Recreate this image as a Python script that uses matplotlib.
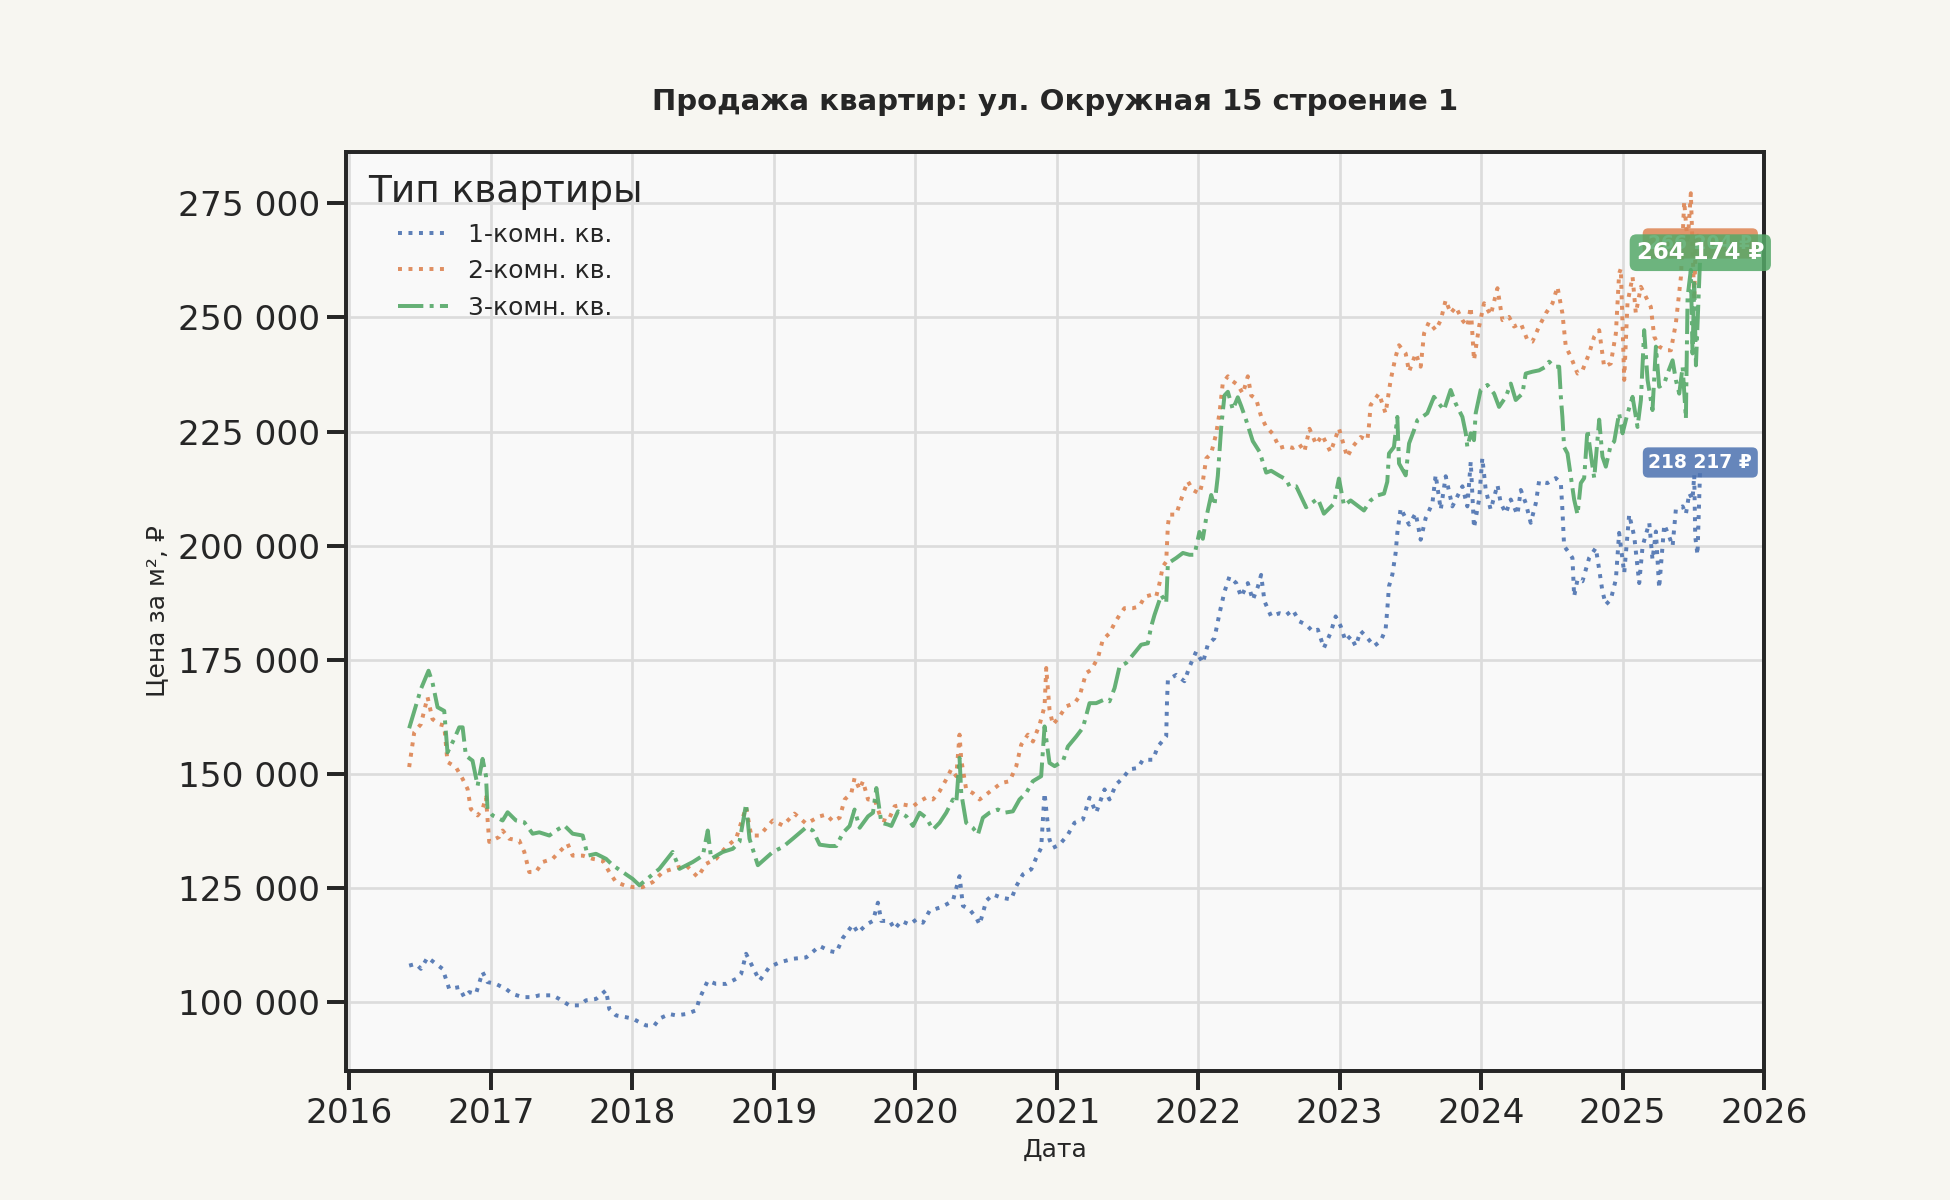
import matplotlib
matplotlib.use("Agg")
import matplotlib.pyplot as plt
import matplotlib.ticker as mticker
import seaborn as sns

# ---------------- data (decimal year, price in thousand RUB per m2) ----------------
series_names = ["1-комн. кв.", "2-комн. кв.", "3-комн. кв."]

x_1room = [2016.422, 2016.469, 2016.505, 2016.552, 2016.611, 2016.658, 2016.682, 2016.705, 2016.776, 2016.811,
           2016.847, 2016.894, 2016.941, 2016.976, 2017.035, 2017.106, 2017.153, 2017.224, 2017.295, 2017.342,
           2017.436, 2017.483, 2017.554, 2017.625, 2017.672, 2017.743, 2017.814, 2017.837, 2017.884, 2017.955,
           2018.002, 2018.050, 2018.097, 2018.156, 2018.191, 2018.262, 2018.309, 2018.380, 2018.450, 2018.474,
           2018.533, 2018.592, 2018.663, 2018.733, 2018.769, 2018.804, 2018.851, 2018.899, 2018.969, 2019.040,
           2019.134, 2019.229, 2019.324, 2019.395, 2019.442, 2019.489, 2019.559, 2019.595, 2019.654, 2019.701,
           2019.736, 2019.760, 2019.819, 2019.854, 2019.901, 2019.960, 2020.007, 2020.054, 2020.101, 2020.172,
           2020.219, 2020.266, 2020.313, 2020.337, 2020.384, 2020.431, 2020.455, 2020.502, 2020.549, 2020.608,
           2020.678, 2020.714, 2020.761, 2020.820, 2020.855, 2020.890, 2020.914, 2020.938, 2020.949, 2020.973,
           2021.020, 2021.079, 2021.126, 2021.185, 2021.232, 2021.279, 2021.338, 2021.373, 2021.420, 2021.468,
           2021.515, 2021.574, 2021.609, 2021.680, 2021.715, 2021.774, 2021.780, 2021.786, 2021.845, 2021.903,
           2021.939, 2021.986, 2022.033, 2022.068, 2022.115, 2022.151, 2022.186, 2022.221, 2022.269, 2022.304,
           2022.351, 2022.386, 2022.422, 2022.445, 2022.469, 2022.516, 2022.575, 2022.622, 2022.669, 2022.716,
           2022.763, 2022.810, 2022.846, 2022.889, 2022.936, 2022.972, 2023.007, 2023.042, 2023.078, 2023.113,
           2023.149, 2023.196, 2023.243, 2023.290, 2023.325, 2023.337, 2023.349, 2023.373, 2023.396, 2023.408,
           2023.432, 2023.467, 2023.491, 2023.538, 2023.573, 2023.608, 2023.656, 2023.679, 2023.715, 2023.750,
           2023.797, 2023.844, 2023.868, 2023.903, 2023.927, 2023.950, 2023.986, 2024.009, 2024.033, 2024.068,
           2024.116, 2024.139, 2024.175, 2024.210, 2024.257, 2024.281, 2024.316, 2024.351, 2024.387, 2024.410,
           2024.469, 2024.528, 2024.564, 2024.575, 2024.587, 2024.623, 2024.646, 2024.658, 2024.682, 2024.717,
           2024.741, 2024.764, 2024.811, 2024.835, 2024.858, 2024.882, 2024.917, 2024.953, 2024.976, 2025.012,
           2025.047, 2025.083, 2025.118, 2025.142, 2025.189, 2025.212, 2025.236, 2025.259, 2025.295, 2025.330,
           2025.354, 2025.377, 2025.425, 2025.448, 2025.472, 2025.495, 2025.507, 2025.514, 2025.530, 2025.550]
y_1room = [108.0, 108.4, 107.3, 109.8, 108.4, 107.3, 105.1, 102.9, 103.3, 101.1,
           102.2, 101.8, 106.6, 104.4, 104.0, 102.9, 101.8, 101.1, 101.1, 101.5,
           101.5, 100.7, 99.3, 99.3, 100.4, 100.7, 102.6, 98.5, 97.1, 96.7,
           96.4, 95.6, 94.9, 94.9, 96.4, 97.4, 97.1, 97.4, 98.2, 100.7,
           104.7, 104.0, 104.0, 105.1, 106.2, 110.6, 107.7, 104.7, 107.7, 108.7,
           109.5, 109.8, 112.3, 111.2, 110.9, 114.1, 117.0, 115.2, 117.0, 117.8,
           121.8, 117.8, 117.8, 116.0, 117.8, 117.0, 118.1, 117.4, 120.0, 120.7,
           121.4, 122.2, 127.6, 121.1, 120.3, 118.5, 117.0, 122.2, 123.6, 122.9,
           122.5, 125.4, 128.0, 129.1, 131.6, 133.8, 145.8, 138.6, 135.6, 133.8,
           134.5, 136.7, 139.3, 140.0, 144.8, 141.5, 146.6, 144.4, 147.7, 149.1,
           151.0, 151.3, 153.1, 153.1, 156.0, 158.2, 166.3, 170.6, 171.7, 170.3,
           173.5, 176.8, 174.3, 178.3, 179.7, 185.2, 189.9, 193.2, 191.8, 188.8,
           191.8, 188.1, 191.0, 193.6, 187.8, 184.5, 185.2, 184.8, 185.9, 183.4,
           182.7, 181.2, 181.6, 177.6, 180.9, 184.5, 182.4, 179.1, 180.2, 178.0,
           181.3, 179.8, 178.0, 179.1, 181.6, 186.0, 191.1, 193.7, 198.4, 202.8,
           208.2, 206.0, 204.6, 207.1, 201.3, 206.0, 209.3, 215.5, 207.9, 215.2,
           208.6, 211.5, 213.0, 208.6, 218.4, 203.9, 210.1, 219.2, 212.2, 207.9,
           213.3, 209.3, 207.1, 210.1, 206.8, 212.2, 209.3, 205.0, 209.3, 214.1,
           213.7, 214.8, 213.7, 207.9, 199.9, 198.4, 197.3, 188.9, 192.6, 192.2,
           194.8, 197.3, 199.5, 194.8, 190.0, 187.1, 188.2, 192.6, 202.8, 194.0,
           206.8, 202.0, 191.8, 199.9, 205.0, 196.9, 203.1, 190.7, 204.6, 202.0,
           199.9, 207.9, 208.6, 206.9, 211.5, 210.1, 215.5, 202.0, 198.0, 218.217]

x_2room = [2016.422, 2016.458, 2016.505, 2016.552, 2016.587, 2016.634, 2016.670, 2016.693, 2016.752, 2016.800,
           2016.835, 2016.858, 2016.906, 2016.941, 2016.965, 2016.988, 2017.059, 2017.083, 2017.130, 2017.200,
           2017.236, 2017.271, 2017.318, 2017.366, 2017.436, 2017.483, 2017.542, 2017.578, 2017.649, 2017.719,
           2017.790, 2017.837, 2017.884, 2017.943, 2018.002, 2018.073, 2018.144, 2018.215, 2018.285, 2018.380,
           2018.462, 2018.521, 2018.592, 2018.663, 2018.733, 2018.804, 2018.840, 2018.899, 2018.993, 2019.064,
           2019.146, 2019.229, 2019.324, 2019.371, 2019.418, 2019.465, 2019.501, 2019.548, 2019.571, 2019.607,
           2019.630, 2019.666, 2019.713, 2019.760, 2019.807, 2019.854, 2019.913, 2019.984, 2020.031, 2020.078,
           2020.125, 2020.172, 2020.219, 2020.254, 2020.290, 2020.313, 2020.325, 2020.360, 2020.407, 2020.455,
           2020.502, 2020.549, 2020.608, 2020.667, 2020.714, 2020.749, 2020.796, 2020.832, 2020.879, 2020.914,
           2020.926, 2020.949, 2020.973, 2021.020, 2021.067, 2021.126, 2021.161, 2021.208, 2021.244, 2021.291,
           2021.326, 2021.373, 2021.409, 2021.444, 2021.479, 2021.538, 2021.585, 2021.621, 2021.668, 2021.703,
           2021.727, 2021.750, 2021.774, 2021.786, 2021.797, 2021.845, 2021.868, 2021.903, 2021.927, 2021.962,
           2022.009, 2022.033, 2022.057, 2022.092, 2022.127, 2022.151, 2022.174, 2022.210, 2022.245, 2022.280,
           2022.316, 2022.351, 2022.375, 2022.410, 2022.445, 2022.481, 2022.528, 2022.575, 2022.622, 2022.669,
           2022.716, 2022.751, 2022.787, 2022.834, 2022.877, 2022.936, 2022.995, 2023.054, 2023.090, 2023.149,
           2023.196, 2023.208, 2023.219, 2023.278, 2023.325, 2023.361, 2023.396, 2023.420, 2023.467, 2023.491,
           2023.538, 2023.573, 2023.597, 2023.632, 2023.679, 2023.715, 2023.750, 2023.785, 2023.821, 2023.868,
           2023.903, 2023.927, 2023.950, 2023.986, 2024.021, 2024.068, 2024.116, 2024.151, 2024.198, 2024.233,
           2024.281, 2024.328, 2024.363, 2024.410, 2024.458, 2024.505, 2024.540, 2024.575, 2024.599, 2024.634,
           2024.682, 2024.717, 2024.764, 2024.800, 2024.835, 2024.870, 2024.917, 2024.953, 2024.976, 2024.988,
           2025.012, 2025.035, 2025.071, 2025.094, 2025.130, 2025.165, 2025.200, 2025.224, 2025.259, 2025.307,
           2025.342, 2025.377, 2025.413, 2025.436, 2025.460, 2025.483, 2025.507, 2025.519, 2025.550]
y_2room = [151.5, 159.1, 160.9, 166.8, 162.0, 160.9, 160.6, 152.6, 151.5, 148.9,
           146.7, 142.3, 140.9, 142.3, 144.9, 135.1, 136.2, 137.6, 135.8, 135.4,
           132.9, 128.5, 128.5, 130.7, 131.4, 132.9, 134.7, 132.1, 132.1, 131.4,
           131.0, 128.5, 126.3, 125.6, 125.2, 125.2, 126.3, 128.5, 129.2, 130.0,
           127.4, 130.3, 131.4, 134.0, 135.8, 142.7, 136.5, 136.5, 139.8, 138.7,
           141.3, 139.1, 140.7, 141.1, 139.6, 140.4, 144.4, 145.8, 149.1, 146.6,
           148.4, 144.4, 144.4, 140.0, 139.6, 142.9, 143.3, 142.9, 144.0, 144.8,
           144.4, 146.2, 148.8, 151.0, 149.5, 158.6, 153.1, 146.6, 145.8, 144.4,
           145.5, 146.6, 148.0, 148.4, 151.7, 156.4, 158.6, 157.1, 160.8, 164.8,
           173.2, 164.1, 160.8, 162.6, 164.8, 165.5, 167.0, 172.1, 172.8, 175.4,
           179.4, 180.8, 183.0, 184.8, 186.3, 186.3, 186.7, 188.8, 189.2, 188.8,
           191.8, 195.4, 196.5, 204.5, 206.8, 206.8, 209.1, 212.2, 214.1, 212.2,
           211.4, 214.1, 219.1, 220.2, 224.5, 229.1, 235.6, 237.1, 236.0, 235.2,
           233.3, 237.1, 232.9, 232.1, 228.3, 226.0, 224.5, 221.4, 221.8, 221.4,
           222.2, 220.6, 225.6, 222.2, 224.2, 220.5, 225.7, 219.4, 221.6, 223.8,
           223.1, 226.4, 230.8, 233.3, 229.0, 236.3, 241.4, 243.9, 242.1, 238.1,
           242.1, 239.2, 246.5, 249.0, 247.2, 249.4, 253.8, 250.9, 252.3, 249.4,
           248.0, 252.3, 240.6, 248.0, 253.1, 250.5, 256.4, 249.4, 250.1, 248.0,
           248.7, 245.0, 244.7, 248.0, 250.9, 253.1, 256.7, 250.9, 243.6, 241.4,
           237.7, 238.4, 242.1, 245.8, 247.2, 239.2, 239.9, 246.5, 259.6, 260.7,
           236.3, 253.1, 258.9, 250.9, 256.7, 254.5, 252.3, 245.8, 243.6, 242.8,
           242.8, 248.7, 258.9, 275.4, 266.2, 277.2, 253.8, 268.4, 266.204]

x_3room = [2016.422, 2016.505, 2016.559, 2016.587, 2016.623, 2016.670, 2016.693, 2016.741, 2016.776, 2016.800,
           2016.823, 2016.870, 2016.906, 2016.941, 2016.965, 2016.976, 2017.012, 2017.083, 2017.118, 2017.177,
           2017.236, 2017.295, 2017.342, 2017.413, 2017.460, 2017.519, 2017.578, 2017.649, 2017.684, 2017.743,
           2017.814, 2017.861, 2017.932, 2018.002, 2018.050, 2018.120, 2018.191, 2018.285, 2018.333, 2018.427,
           2018.498, 2018.533, 2018.557, 2018.639, 2018.710, 2018.757, 2018.804, 2018.828, 2018.887, 2018.993,
           2019.064, 2019.134, 2019.229, 2019.276, 2019.324, 2019.395, 2019.442, 2019.489, 2019.536, 2019.571,
           2019.607, 2019.666, 2019.701, 2019.725, 2019.760, 2019.807, 2019.831, 2019.878, 2019.937, 2019.984,
           2020.031, 2020.078, 2020.125, 2020.172, 2020.219, 2020.266, 2020.290, 2020.313, 2020.325, 2020.360,
           2020.407, 2020.443, 2020.478, 2020.525, 2020.584, 2020.631, 2020.690, 2020.737, 2020.784, 2020.831,
           2020.890, 2020.914, 2020.949, 2020.985, 2021.044, 2021.079, 2021.138, 2021.185, 2021.232, 2021.279,
           2021.338, 2021.373, 2021.409, 2021.444, 2021.491, 2021.550, 2021.597, 2021.644, 2021.668, 2021.691,
           2021.739, 2021.774, 2021.786, 2021.845, 2021.892, 2021.939, 2021.974, 2022.009, 2022.033, 2022.057,
           2022.092, 2022.115, 2022.139, 2022.163, 2022.186, 2022.210, 2022.245, 2022.280, 2022.304, 2022.339,
           2022.386, 2022.433, 2022.481, 2022.516, 2022.575, 2022.622, 2022.646, 2022.693, 2022.728, 2022.763,
           2022.810, 2022.846, 2022.889, 2022.960, 2022.995, 2023.031, 2023.078, 2023.125, 2023.172, 2023.219,
           2023.267, 2023.314, 2023.337, 2023.349, 2023.384, 2023.408, 2023.420, 2023.467, 2023.491, 2023.526,
           2023.550, 2023.585, 2023.620, 2023.667, 2023.703, 2023.738, 2023.785, 2023.821, 2023.868, 2023.892,
           2023.903, 2023.927, 2023.950, 2023.962, 2023.997, 2024.045, 2024.092, 2024.127, 2024.175, 2024.210,
           2024.245, 2024.292, 2024.316, 2024.363, 2024.410, 2024.458, 2024.481, 2024.517, 2024.552, 2024.564,
           2024.575, 2024.587, 2024.611, 2024.634, 2024.658, 2024.682, 2024.705, 2024.729, 2024.752, 2024.788,
           2024.800, 2024.835, 2024.858, 2024.882, 2024.917, 2024.941, 2024.976, 2025.000, 2025.035, 2025.071,
           2025.106, 2025.130, 2025.153, 2025.177, 2025.212, 2025.236, 2025.259, 2025.295, 2025.318, 2025.354,
           2025.377, 2025.401, 2025.425, 2025.448, 2025.460, 2025.483, 2025.495, 2025.507, 2025.519, 2025.550]
y_3room = [160.0, 168.6, 172.6, 170.0, 164.6, 163.8, 154.7, 157.7, 160.2, 160.2,
           154.0, 152.9, 147.4, 153.3, 149.6, 142.3, 140.9, 139.8, 141.6, 139.8,
           139.4, 136.9, 137.2, 136.5, 137.6, 138.7, 136.9, 136.5, 132.1, 132.5,
           131.4, 130.0, 128.5, 127.0, 125.6, 127.4, 129.2, 132.9, 129.2, 130.7,
           132.1, 137.6, 131.4, 132.9, 133.6, 135.1, 143.4, 135.8, 130.0, 132.9,
           134.0, 135.8, 138.3, 137.6, 134.5, 134.2, 134.2, 137.1, 138.6, 142.2,
           138.2, 140.7, 141.5, 146.9, 139.3, 138.9, 138.6, 141.8, 140.7, 138.6,
           141.5, 140.4, 137.8, 139.3, 141.5, 144.4, 143.7, 153.5, 145.8, 139.3,
           138.2, 136.7, 140.4, 141.5, 142.2, 141.5, 141.8, 144.4, 145.8, 148.4,
           149.5, 160.4, 152.4, 151.7, 152.8, 156.0, 158.2, 160.1, 165.5, 165.5,
           166.3, 165.9, 168.8, 173.5, 174.3, 176.5, 178.3, 178.6, 182.3, 184.8,
           189.2, 187.4, 196.1, 197.3, 198.4, 198.0, 198.0, 203.0, 201.5, 206.1,
           211.1, 208.8, 215.3, 226.0, 232.9, 233.7, 229.8, 232.5, 230.6, 227.5,
           222.9, 220.6, 216.0, 216.4, 215.3, 214.5, 213.0, 213.0, 210.7, 208.4,
           209.5, 210.3, 207.0, 209.2, 214.7, 208.8, 209.9, 208.8, 207.7, 209.9,
           211.0, 211.4, 214.0, 220.2, 221.6, 228.2, 218.0, 215.4, 222.4, 225.3,
           227.5, 228.2, 229.0, 232.6, 231.1, 229.7, 234.1, 231.1, 228.2, 224.6,
           221.6, 224.6, 223.1, 229.0, 234.1, 235.2, 233.3, 230.4, 232.6, 235.5,
           231.9, 233.3, 237.7, 238.1, 238.4, 239.2, 240.3, 239.2, 239.2, 232.6,
           228.2, 221.6, 220.2, 215.2, 210.1, 206.8, 213.7, 214.8, 225.4, 217.3,
           214.8, 227.6, 219.5, 217.3, 222.1, 222.8, 229.0, 224.6, 228.9, 232.6,
           226.0, 231.9, 247.2, 236.3, 229.7, 243.6, 234.8, 235.5, 237.7, 240.6,
           236.3, 233.3, 239.2, 227.8, 254.5, 260.4, 242.1, 257.5, 239.5, 264.174]

end_labels = ["218 217 ₽", "266 204 ₽", "264 174 ₽"]
year_ticks = list(range(2016, 2027))

# ---------------- style ----------------
sns.set_theme(context="talk", style="ticks")
plt.rcParams["font.family"] = ["DejaVu Sans"]

colors = ["#4c72b0", "#dd8452", "#55a868"]
styles = [":", ":", "-."]
label_sizes = [9, 9, 11]

fig = plt.figure(figsize=(13, 8), dpi=150, facecolor="#f7f6f1")
ax = fig.add_axes([0.1774, 0.1078, 0.7272, 0.7658])
ax.set_facecolor("#f9f9f9")

xs = [x_1room, x_2room, x_3room]
ys = [y_1room, y_2room, y_3room]
for i in range(3):
    yv = [v * 1000 for v in ys[i]]
    ax.plot(xs[i], yv, linestyle=styles[i], color=colors[i], lw=1.9, alpha=0.9,
            label=series_names[i], zorder=3)

for i in [0, 1, 2]:
    ax.text(xs[i][-1], ys[i][-1] * 1000, end_labels[i], ha="center", va="center",
            fontsize=label_sizes[i], fontweight="bold", color="white", zorder=5 + i,
            bbox=dict(boxstyle="round,pad=0.3", facecolor=colors[i], edgecolor="none", alpha=0.85))

ax.set_xlim(2015.975, 2026.0)
ax.set_ylim(85000, 286300)
ax.set_xticks(year_ticks)
ax.set_xticklabels([str(y) for y in year_ticks])
ax.yaxis.set_major_locator(mticker.MultipleLocator(25000))
ax.yaxis.set_major_formatter(mticker.FuncFormatter(lambda v, p: f"{v:,.0f}".replace(",", " ")))
ax.tick_params(axis="both", labelsize=16.5, length=9, width=1.9, color="#262626", labelcolor="#262626")

ax.grid(True, color="#dcdcdc", lw=1.3, zorder=0)
ax.set_axisbelow(True)
for s in ax.spines.values():
    s.set_color("#262626")
    s.set_linewidth(1.9)

ax.set_xlabel("Дата", fontsize=12, color="#262626")
ax.set_ylabel("Цена за м², ₽", fontsize=12, color="#262626")
ax.set_title("Продажа квартир: ул. Окружная 15 строение 1", fontsize=14, fontweight="bold",
             color="#262626", pad=20)

leg = ax.legend(title="Тип квартиры", loc="upper left", frameon=False, fontsize=12,
                title_fontsize=18, handlelength=2.0)
leg.get_title().set_color("#262626")

fig.savefig("out.png", dpi=150, facecolor=fig.get_facecolor())
